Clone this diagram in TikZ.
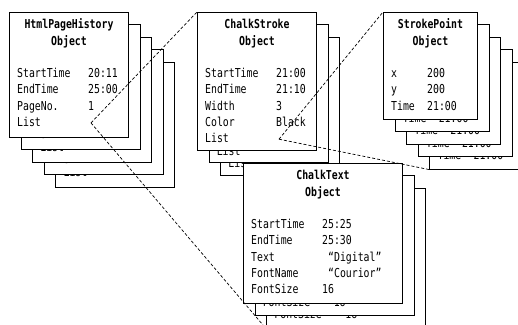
\documentclass[tikz,border=0pt]{standalone}
\usepackage{fontspec}
\usepackage{tikz}
\usetikzlibrary{calc}
\newfontfamily\cardfont[FakeStretch=0.8]{DejaVu Sans Mono}

% front object card: name, x, y, width, height, value column, title, rows
\newcommand{\objcard}[8]{%
  \node[card,minimum width=#4pt,minimum height=#5pt] (#1) at ({#2},{#3}) {};
  \node[cardhead] at ($(#1.north)+(0,16.5)$) {#7};
  \node[cardhead] at ($(#1.north)+(0,33.5)$) {Object};
  \foreach \key/\val [count=\i] in {#8} {
    \node[cardtext] at ($(#1.north west)+(8,{49.2+16.3*\i})$) {\key};
    \node[cardtext] at ($(#1.north west)+(#6,{49.2+16.3*\i})$) {\val};
    \coordinate (#1-p\i) at ($(#1.north west)+({#6+3},{45.7+16.3*\i})$);
  }
}
% card behind it: only its last row shows below the one in front
\newcommand{\backcard}[8]{%
  \node[card,minimum width=#4pt,minimum height=#5pt] (#1) at ({#2},{#3}) {};
  \foreach \key/\val in {#8} {
    \node[cardtext] at ($(#1.north west)+(8,{49.2+16.3*#7})$) {\key};
    \node[cardtext] at ($(#1.north west)+(#6,{49.2+16.3*#7})$) {\val};
  }
}

\begin{document}
\begin{tikzpicture}[x=1pt,y=-1pt,
    card/.style={draw,fill=white,line width=1pt,anchor=north west,inner sep=0pt},
    cardhead/.style={anchor=base,inner sep=0pt,font=\cardfont\fontsize{12.3}{15}\selectfont\bfseries},
    cardtext/.style={anchor=base west,inner sep=0pt,font=\cardfont\fontsize{12.3}{15}\selectfont},
    link/.style={line width=0.7pt,dash pattern=on 3pt off 2pt}]
  \useasboundingbox (0,0) rectangle (518,324);
  \fill[white] (0,0) rectangle (518,324);
  \clip (0,0) rectangle (518,324);

  % page history stack
  \foreach \j in {5,4,3,2}
    \backcard{hph\j}{9+11.6*(\j-1)}{12+12.4*(\j-1)}{119}{125}{79}{4}{List/};
  \objcard{hph1}{9}{12}{119}{125}{79}{HtmlPageHistory}
    {StartTime/20:11, EndTime/25:00, PageNo./1, List/};

  % chalk stroke stack
  \foreach \j in {3,2}
    \backcard{cs\j}{197+11.6*(\j-1)}{12+12.4*(\j-1)}{119}{138}{79}{5}{List/};
  \objcard{cs1}{197}{12}{119}{138}{79}{ChalkStroke}
    {StartTime/21:00, EndTime/21:10, Width/3, Color/Black, List/};

  % stroke point stack
  \foreach \j in {5,4,3,2}
    \backcard{sp\j}{383+11.6*(\j-1)}{12+12.4*(\j-1)}{94}{107}{44}{3}{Time/21:00};
  \objcard{sp1}{383}{12}{94}{107}{44}{StrokePoint}
    {x/200, y/200, Time/21:00};

  % chalk text stack
  \foreach \j in {3,2}
    \backcard{ct\j}{243+11.6*(\j-1)}{163+12.4*(\j-1)}{159}{140}{79}{5}{FontSize/16};
  \objcard{ct1}{243}{163}{159}{140}{79}{ChalkText}
    {StartTime/25:25, EndTime/25:30, Text/{\hspace{6pt}“Digital”},
     FontName/{\hspace{6pt}“Courior”}, FontSize/16};

  % list links
  \draw[link] (hph1-p4) -- (cs1.north west);
  \draw[link] (hph1-p4) -- (ct3.south west);
  \draw[link] (cs1-p5) -- (sp1.north west);
  \draw[link] (cs1-p5) -- (sp5.south west);
\end{tikzpicture}
\end{document}
